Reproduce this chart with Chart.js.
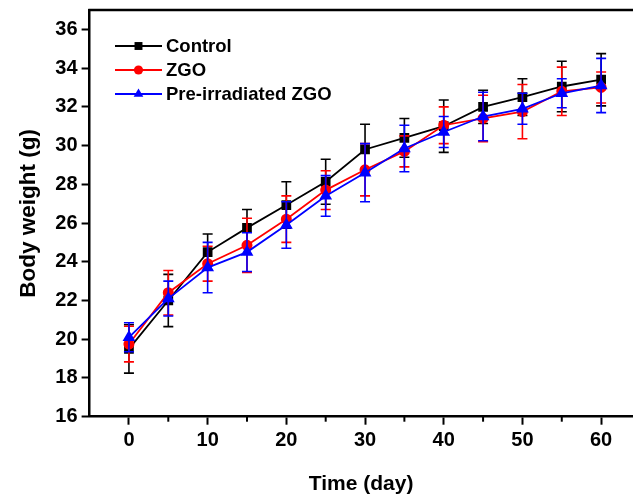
<!DOCTYPE html>
<html>
<head>
<meta charset="utf-8">
<script src="https://cdn.jsdelivr.net/npm/chart.js@4.4.0/dist/chart.umd.min.js"></script>
<style>
html, body { margin: 0; padding: 0; background: #fff; overflow: hidden; }
#wrap { width: 633px; height: 497px; overflow: hidden; }
</style>
</head>
<body>
<div id="wrap"><canvas id="chartContainer" width="640" height="497"></canvas></div>
<script>
// days of measurement
const days = [0, 5, 10, 15, 20, 25, 30, 35, 40, 45, 50, 55, 60];

// mean body weight (g) and error (+/-)
const control    = [19.5, 22.0, 24.5, 25.75, 26.93, 28.13, 29.8, 30.4, 31.0, 32.0, 32.5, 33.05, 33.4];
const controlErr = [1.25, 1.35, 0.93, 0.95, 1.2, 1.16, 1.3, 1.0, 1.35, 0.86, 0.95, 1.3, 1.35];
const zgo        = [19.75, 22.4, 23.9, 24.85, 26.2, 27.7, 28.75, 29.7, 31.05, 31.4, 31.75, 32.8, 33.0];
const zgoErr     = [0.92, 1.15, 0.9, 1.4, 1.2, 1.0, 1.35, 0.8, 0.95, 1.2, 1.4, 1.25, 0.8];
const preZgo     = [20.1, 22.1, 23.7, 24.5, 25.9, 27.4, 28.6, 29.85, 30.7, 31.5, 31.9, 32.7, 33.1];
const preZgoErr  = [0.75, 0.9, 1.3, 1.0, 1.2, 1.05, 1.5, 1.2, 0.8, 1.25, 0.8, 0.75, 1.4];

const seriesNames = ['Control', 'ZGO', 'Pre-irradiated ZGO'];

// axis ticks
const xTicks = [0, 10, 20, 30, 40, 50, 60];
const xMinorTicks = [5, 15, 25, 35, 45, 55];
const yTicks = [16, 18, 20, 22, 24, 26, 28, 30, 32, 34, 36];

const FONT = "'Liberation Sans', Arial, Helvetica, sans-serif";
const errors = [controlErr, zgoErr, preZgoErr];

const toPoints = arr => days.map((d, i) => ({ x: d, y: arr[i] }));

// error bars, drawn under each series' own line and markers
const errorBars = {
    id: 'errorBars',
    beforeDatasetDraw(chart, args) {
        const ds = chart.data.datasets[args.index];
        const err = errors[args.index];
        const y = chart.scales.y, ctx = chart.ctx;
        ctx.save();
        ctx.strokeStyle = ds.borderColor;
        ctx.lineWidth = 1.6;
        args.meta.data.forEach((pt, i) => {
            const v = ds.data[i].y;
            const top = y.getPixelForValue(v + err[i]);
            const bot = y.getPixelForValue(v - err[i]);
            ctx.beginPath();
            ctx.moveTo(pt.x, top); ctx.lineTo(pt.x, bot);
            ctx.moveTo(pt.x - 5, top); ctx.lineTo(pt.x + 5, top);
            ctx.moveTo(pt.x - 5, bot); ctx.lineTo(pt.x + 5, bot);
            ctx.stroke();
        });
        ctx.restore();
    }
};

// top frame line, minor x ticks and the in-plot legend
const frameAndLegend = {
    id: 'frameAndLegend',
    afterDraw(chart) {
        const ctx = chart.ctx, a = chart.chartArea, x = chart.scales.x;
        ctx.save();
        ctx.strokeStyle = '#000';
        ctx.lineWidth = 2.5;
        ctx.beginPath();
        ctx.moveTo(a.left - 1.25, a.top); ctx.lineTo(chart.width, a.top);
        ctx.stroke();

        ctx.lineWidth = 2;
        xMinorTicks.forEach(v => {
            const px = x.getPixelForValue(v);
            ctx.beginPath();
            ctx.moveTo(px, a.bottom); ctx.lineTo(px, a.bottom + 5);
            ctx.stroke();
        });

        // legend
        chart.data.datasets.forEach((ds, i) => {
            const ly = 46 + i * 24;
            ctx.strokeStyle = ds.borderColor;
            ctx.lineWidth = 1.8;
            ctx.beginPath();
            ctx.moveTo(115, ly); ctx.lineTo(162, ly);
            ctx.stroke();
            ctx.fillStyle = ds.backgroundColor;
            Chart.helpers.drawPoint(ctx, {
                pointStyle: ds.pointStyle, radius: ds.pointRadius,
                rotation: 0, borderWidth: 0
            }, 138.5, ly);
            ctx.fillStyle = '#000';
            ctx.font = 'bold 18.5px ' + FONT;
            ctx.textBaseline = 'middle';
            ctx.fillText(ds.label, 166, ly + 1);
        });
        ctx.restore();
    }
};

const ctx = document.getElementById('chartContainer').getContext('2d');
new Chart(ctx, {
    type: 'line',
    data: {
        datasets: [
            {
                label: seriesNames[0],
                data: toPoints(control),
                borderColor: '#000000',
                backgroundColor: '#000000',
                pointStyle: 'rect',
                pointRadius: 5.6,
                borderWidth: 1.8,
                order: 3
            },
            {
                label: seriesNames[1],
                data: toPoints(zgo),
                borderColor: '#ff0000',
                backgroundColor: '#ff0000',
                pointStyle: 'circle',
                pointRadius: 4.6,
                borderWidth: 1.8,
                order: 2
            },
            {
                label: seriesNames[2],
                data: toPoints(preZgo),
                borderColor: '#0000ff',
                backgroundColor: '#0000ff',
                pointStyle: 'triangle',
                pointRadius: 5.6,
                borderWidth: 1.8,
                order: 1
            }
        ]
    },
    options: {
        responsive: false,
        animation: false,
        devicePixelRatio: 1,
        layout: { padding: { top: 10, right: 0, left: 0, bottom: 0 } },
        plugins: {
            legend: { display: false },
            tooltip: { enabled: false }
        },
        scales: {
            x: {
                type: 'linear',
                min: -5,
                max: 64,
                afterBuildTicks: s => { s.ticks = xTicks.map(v => ({ value: v })); },
                afterFit: s => { s.height = 80.3; s.paddingLeft = 0; s.paddingRight = 0; },
                grid: {
                    drawOnChartArea: false,
                    tickLength: 8,
                    tickColor: '#000',
                    tickWidth: 2
                },
                border: { color: '#000', width: 2.5 },
                ticks: {
                    color: '#000',
                    padding: 4,
                    maxRotation: 0,
                    font: { family: FONT, size: 20, weight: 'bold' }
                },
                title: {
                    display: true,
                    text: 'Time (day)',
                    color: '#000',
                    padding: { top: 5, bottom: 0 },
                    font: { family: FONT, size: 21, weight: 'bold' }
                }
            },
            y: {
                type: 'linear',
                min: 16,
                max: 37,
                afterBuildTicks: s => { s.ticks = yTicks.map(v => ({ value: v })); },
                afterFit: s => { s.width = 89.6; s.paddingTop = 0; s.paddingBottom = 0; },
                grid: {
                    drawOnChartArea: false,
                    tickLength: 8,
                    tickColor: '#000',
                    tickWidth: 2
                },
                border: { color: '#000', width: 2.5 },
                ticks: {
                    color: '#000',
                    padding: 4,
                    font: { family: FONT, size: 20, weight: 'bold' }
                },
                title: {
                    display: true,
                    text: 'Body weight (g)',
                    color: '#000',
                    padding: { top: 15, bottom: 0 },
                    font: { family: FONT, size: 22.5, weight: 'bold' }
                }
            }
        }
    },
    plugins: [errorBars, frameAndLegend]
});
</script>
</body>
</html>
